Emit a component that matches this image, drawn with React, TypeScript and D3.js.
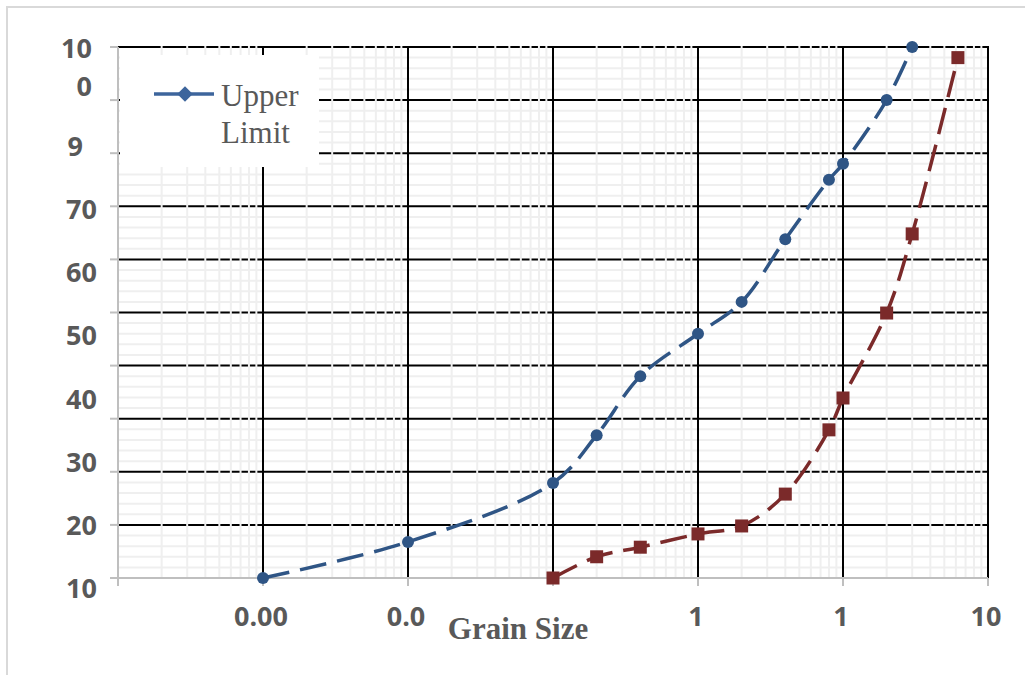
import * as d3 from 'd3'

// grain size (mm) and percent passing
const upperSize = [0.001, 0.01, 0.1, 0.2, 0.4, 1, 2, 4, 8, 10, 20, 30]
const upperPassing = [0, 6.8, 17.9, 26.9, 38.0, 46.0, 52.0, 63.8, 75.0, 78.0, 90.0, 100]

const lowerSize = [0.1, 0.2, 0.4, 1, 2, 4, 8, 10, 20, 30, 62]
const lowerPassing = [0, 4.0, 5.8, 8.3, 9.8, 15.8, 27.9, 33.9, 49.9, 64.8, 98]

// axis labels as they appear (clipped) on the original
const xTickValues = [0.001, 0.01, 1, 10, 100]
const xTickText = ['0.00', '0.0', '1', '1', '10']
const yTickText = ['10', '20', '30', '40', '50', '60', '70', '9']
const yTopText = ['10', '0'] // "100" wrapped onto two lines

const legendText = ['Upper', 'Limit']
const xTitle = 'Grain Size'

const W = 1025
const H = 675
const left = 118
const right = 988
const top = 47
const bottom = 578

const blue = '#2f5585'
const red = '#7b2a2a'
const grey = '#595959'
const labelFont = 'Open Sans, Liberation Sans, sans-serif'

const App = () => {
  const x = d3.scaleLog().domain([0.0001, 100]).range([left, right])
  const y = d3.scaleLinear().domain([0, 100]).range([bottom, top])
  // y labels sit on their own spacing, not on the gridlines
  const yLab = d3.scaleLinear().domain([0, 7]).range([598, 156])
  const yLabRight = [97, 97, 97, 97, 97, 97, 97, 83]

  const decades = d3.range(-3, 3).map(p => Math.pow(10, p))
  const minorX: number[] = []
  d3.range(-4, 2).forEach(p => {
    for (let k = 2; k <= 9; k++) minorX.push(k * Math.pow(10, p))
  })
  const majorY = d3.range(10, 101, 10)
  const minorY = d3.range(2, 100, 2).filter(v => v % 10 !== 0)

  const line = d3.line<[number, number]>()
    .x(d => x(d[0]))
    .y(d => y(d[1]))
    .curve(d3.curveCatmullRom.alpha(0.5))

  const upper = upperSize.map((s, i) => [s, upperPassing[i]] as [number, number])
  const lower = lowerSize.map((s, i) => [s, lowerPassing[i]] as [number, number])

  return (
    <svg width={W} height={H} style={{ position: 'absolute', left: 0, top: 0, background: '#fff' }}>
      <rect x={7} y={7} width={W + 10} height={H + 10} fill="#fff" stroke="#d9d9d9" strokeWidth={2} />

      {/* minor grid */}
      {minorY.map(v => (
        <line key={'my' + v} x1={left} x2={right} y1={y(v)} y2={y(v)} stroke="#efefef" strokeWidth={2} />
      ))}
      {majorY.map(v => (
        <line key={'My' + v} x1={left} x2={right} y1={y(v)} y2={y(v)} stroke="#000" strokeWidth={2} />
      ))}
      {minorX.map(v => (
        <line key={'mx' + v} x1={x(v)} x2={x(v)} y1={top - 1} y2={bottom} stroke="#efefef" strokeWidth={2} />
      ))}
      {decades.map(v => (
        <line key={'Mx' + v} x1={x(v)} x2={x(v)} y1={top - 1} y2={bottom} stroke="#000" strokeWidth={2} />
      ))}

      {/* axes */}
      <line x1={left} x2={left} y1={top} y2={bottom + 8} stroke="#bfbfbf" strokeWidth={2} />
      <line x1={left} x2={right} y1={bottom} y2={bottom} stroke="#bfbfbf" strokeWidth={2} />
      {[0, ...majorY].map(v => (
        <line key={'ty' + v} x1={left - 8} x2={left} y1={y(v)} y2={y(v)} stroke="#bfbfbf" strokeWidth={2} />
      ))}
      {[0.0001, ...decades].map(v => (
        <line key={'tx' + v} x1={x(v)} x2={x(v)} y1={bottom} y2={bottom + 8} stroke="#bfbfbf" strokeWidth={2} />
      ))}

      {/* legend box */}
      <rect x={120} y={55} width={199} height={112} fill="#fff" />
      <line x1={154} x2={214} y1={94} y2={94} stroke="#3d659c" strokeWidth={3.5} />
      <rect x={179.5} y={88.5} width={11} height={11} fill="#3d659c" transform="rotate(45 185 94)" />
      <text x={221} y={106} fill={grey} fontFamily="Liberation Serif, serif" fontSize={31}>
        {legendText.map((t, i) => (
          <tspan key={t} x={221} dy={i === 0 ? 0 : 37}>{t}</tspan>
        ))}
      </text>

      {/* series */}
      <path d={line(upper) || ''} fill="none" stroke={blue} strokeWidth={3.5} strokeDasharray="27 11" />
      <path d={line(lower) || ''} fill="none" stroke={red} strokeWidth={3.5} strokeDasharray="27 11" />
      {upper.map((d, i) => (
        <circle key={'u' + i} cx={x(d[0])} cy={y(d[1])} r={6} fill={blue} />
      ))}
      {lower.map((d, i) => (
        <rect key={'l' + i} x={x(d[0]) - 6.5} y={y(d[1]) - 6.5} width={13} height={13} fill={red} />
      ))}

      {/* y labels */}
      <g fontFamily={labelFont} fontWeight="bold" fontSize={27} fill={grey} textAnchor="end">
        {yTickText.map((t, i) => (
          <text key={'yl' + i} x={yLabRight[i]} y={yLab(i)}>{t}</text>
        ))}
        <text x={92} y={58}>
          {yTopText.map((t, i) => (
            <tspan key={'yt' + i} x={92} dy={i === 0 ? 0 : 38}>{t}</tspan>
          ))}
        </text>
      </g>

      {/* x labels */}
      <g fontFamily={labelFont} fontWeight="bold" fontSize={27} fill={grey} textAnchor="middle">
        {xTickValues.map((v, i) => (
          <text key={'xl' + i} x={x(v) - 2} y={626}>{xTickText[i]}</text>
        ))}
      </g>
      <text x={518} y={639} textAnchor="middle" fontFamily="Liberation Serif, serif" fontWeight="bold" fontSize={31} fill={grey}>
        {xTitle}
      </text>
    </svg>
  )
}

export default App
